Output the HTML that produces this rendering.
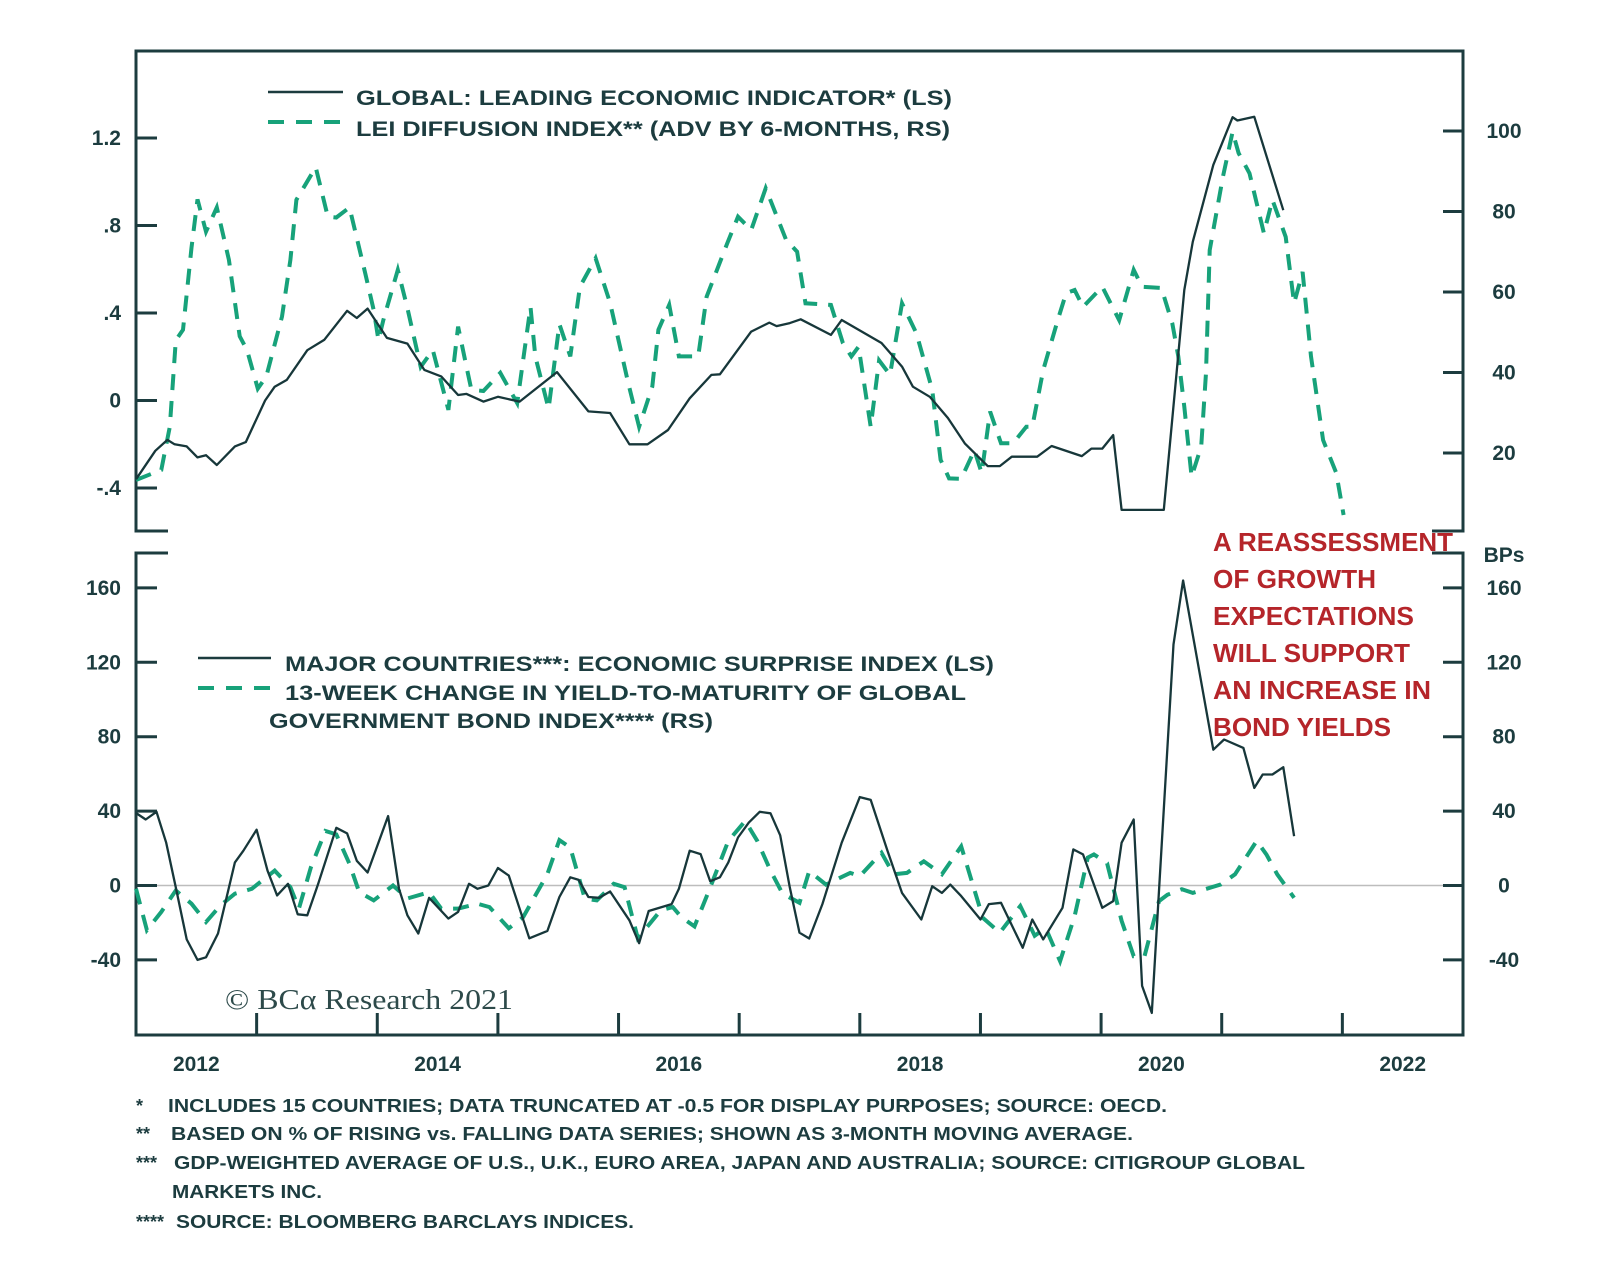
<!DOCTYPE html>
<html><head><meta charset="utf-8"><style>
html,body{margin:0;padding:0;background:#fff;}
svg{display:block;}
text{font-family:"Liberation Sans",Arial,sans-serif;fill:#1c3c3f;}
.b{font-weight:bold;}
</style></head><body>
<svg id="chart" width="1600" height="1272" viewBox="0 0 1600 1272" xmlns="http://www.w3.org/2000/svg">
<rect width="1600" height="1272" fill="#fff"/>
<g id="frame" stroke="#1c3c3f" stroke-width="3" fill="none">
<path d="M168 531 H136 V51 H1463 V531 H1432"/>
<path d="M168 553 H136 V1035 H1463 V553 H1432"/>
</g>
<line x1="136" x2="1463" y1="885.5" y2="885.5" stroke="#bdbdbd" stroke-width="1.5"/>
<g id="axes"></g>
<g id="series"></g>
<g>
<line x1="268" x2="343" y1="92" y2="92" stroke="#1c3c3f" stroke-width="2.5"/>
<text x="356" y="105" font-size="21" class="b" textLength="596" lengthAdjust="spacingAndGlyphs">GLOBAL: LEADING ECONOMIC INDICATOR* (LS)</text>
<line x1="268" x2="343" y1="122" y2="122" stroke="#17a27a" stroke-width="4" stroke-dasharray="16,12"/>
<text x="356" y="136" font-size="21" class="b" textLength="594" lengthAdjust="spacingAndGlyphs">LEI DIFFUSION INDEX** (ADV BY 6-MONTHS, RS)</text>
</g>
<g>
<line x1="198" x2="271" y1="658" y2="658" stroke="#1c3c3f" stroke-width="2.5"/>
<text x="285" y="671" font-size="21" class="b" textLength="709" lengthAdjust="spacingAndGlyphs">MAJOR COUNTRIES***: ECONOMIC SURPRISE INDEX (LS)</text>
<line x1="198" x2="271" y1="688" y2="688" stroke="#17a27a" stroke-width="4" stroke-dasharray="16,12"/>
<text x="285" y="700" font-size="21" class="b" textLength="681" lengthAdjust="spacingAndGlyphs">13-WEEK CHANGE IN YIELD-TO-MATURITY OF GLOBAL</text>
<text x="269" y="728" font-size="21" class="b" textLength="444" lengthAdjust="spacingAndGlyphs">GOVERNMENT BOND INDEX**** (RS)</text>
</g>
<text x="1504" y="562" font-size="21" class="b" text-anchor="middle">BPs</text>
<g font-size="26" font-weight="bold">
<text x="1213" y="551" style="fill:#b5252a" textLength="240" lengthAdjust="spacingAndGlyphs">A REASSESSMENT</text>
<text x="1213" y="588" style="fill:#b5252a" textLength="163" lengthAdjust="spacingAndGlyphs">OF GROWTH</text>
<text x="1213" y="625" style="fill:#b5252a" textLength="201" lengthAdjust="spacingAndGlyphs">EXPECTATIONS</text>
<text x="1213" y="662" style="fill:#b5252a" textLength="197" lengthAdjust="spacingAndGlyphs">WILL SUPPORT</text>
<text x="1213" y="699" style="fill:#b5252a" textLength="218" lengthAdjust="spacingAndGlyphs">AN INCREASE IN</text>
<text x="1213" y="736" style="fill:#b5252a" textLength="178" lengthAdjust="spacingAndGlyphs">BOND YIELDS</text>
</g>
<text x="225" y="1009" font-size="28" style="font-family:'Liberation Serif',serif;fill:#2d4a4a" textLength="288" lengthAdjust="spacingAndGlyphs">© BCα Research 2021</text>
<g font-size="18" class="b">
<text x="136" y="1112" class="b">*</text>
<text x="168" y="1112" class="b" textLength="999" lengthAdjust="spacingAndGlyphs">INCLUDES 15 COUNTRIES; DATA TRUNCATED AT -0.5 FOR DISPLAY PURPOSES; SOURCE: OECD.</text>
<text x="136" y="1140" class="b">**</text>
<text x="171" y="1140" class="b" textLength="962" lengthAdjust="spacingAndGlyphs">BASED ON % OF RISING vs. FALLING DATA SERIES; SHOWN AS 3-MONTH MOVING AVERAGE.</text>
<text x="136" y="1169" class="b">***</text>
<text x="174" y="1169" class="b" textLength="1131" lengthAdjust="spacingAndGlyphs">GDP-WEIGHTED AVERAGE OF U.S., U.K., EURO AREA, JAPAN AND AUSTRALIA; SOURCE: CITIGROUP GLOBAL</text>
<text x="172" y="1198" class="b" textLength="150" lengthAdjust="spacingAndGlyphs">MARKETS INC.</text>
<text x="136" y="1228" class="b">****</text>
<text x="176" y="1228" class="b" textLength="458" lengthAdjust="spacingAndGlyphs">SOURCE: BLOOMBERG BARCLAYS INDICES.</text>
</g>
</svg>
<script>
// ---- data ----
const leiDates = [2012.0,2012.16,2012.26,2012.32,2012.42,2012.51,2012.58,2012.67,2012.82,2012.91,2013.07,2013.15,2013.25,2013.42,2013.56,2013.75,2013.83,2013.92,2014.08,2014.25,2014.39,2014.53,2014.67,2014.74,2014.88,2015.0,2015.18,2015.49,2015.75,2015.93,2016.09,2016.24,2016.41,2016.59,2016.77,2016.84,2017.10,2017.25,2017.31,2017.42,2017.51,2017.76,2017.85,2018.18,2018.35,2018.44,2018.58,2018.73,2018.87,2019.06,2019.16,2019.26,2019.47,2019.59,2019.84,2019.92,2020.01,2020.10,2020.17,2020.52,2020.69,2020.76,2020.93,2021.09,2021.13,2021.27,2021.51];
const leiValues = [-0.36,-0.23,-0.18,-0.2,-0.21,-0.26,-0.25,-0.295,-0.21,-0.19,0.0,0.063,0.094,0.23,0.277,0.41,0.377,0.42,0.286,0.26,0.14,0.11,0.025,0.03,-0.005,0.017,-0.005,0.13,-0.05,-0.057,-0.2,-0.2,-0.135,0.01,0.117,0.12,0.315,0.356,0.34,0.354,0.371,0.3,0.368,0.263,0.155,0.063,0.017,-0.08,-0.196,-0.3,-0.3,-0.257,-0.257,-0.208,-0.254,-0.22,-0.22,-0.158,-0.5,-0.5,0.505,0.726,1.077,1.295,1.28,1.297,0.87];
const diffDates = [2012.0,2012.21,2012.28,2012.33,2012.39,2012.46,2012.51,2012.58,2012.67,2012.77,2012.86,2012.92,2013.01,2013.08,2013.21,2013.28,2013.33,2013.49,2013.59,2013.66,2013.77,2013.90,2013.97,2014.01,2014.05,2014.17,2014.25,2014.36,2014.46,2014.59,2014.67,2014.74,2014.78,2014.88,2015.02,2015.16,2015.27,2015.31,2015.42,2015.51,2015.60,2015.68,2015.81,2015.93,2016.08,2016.17,2016.28,2016.33,2016.42,2016.50,2016.66,2016.73,2016.90,2016.99,2017.10,2017.22,2017.39,2017.48,2017.55,2017.76,2017.86,2017.93,2017.99,2018.09,2018.16,2018.25,2018.35,2018.47,2018.60,2018.67,2018.74,2018.84,2018.95,2019.01,2019.08,2019.17,2019.27,2019.38,2019.43,2019.52,2019.64,2019.71,2019.78,2019.85,2020.01,2020.15,2020.27,2020.34,2020.50,2020.59,2020.64,2020.69,2020.75,2020.83,2020.87,2020.90,2021.01,2021.09,2021.14,2021.23,2021.35,2021.42,2021.53,2021.60,2021.67,2021.74,2021.84,2021.95,2022.01];
const diffValues = [13.3,15.8,26.5,48,50.6,71,83,75,81,68,49,45.6,36,39,53.9,68,82.9,91,78.7,78.5,81,64.7,55.5,48,53,65.5,56,41.4,45.6,30.7,51.4,41.4,35.7,35.4,39.9,32.4,56.3,44,31,52,44,61.3,68.4,57.3,37.4,26.5,36.5,50.6,56.8,44,44,58.8,72,78.7,75.4,85.8,72.9,70,57.2,56.8,47.3,44,46.4,26.5,43,39.4,57.2,49.7,35.7,18.3,13.7,13.6,20.7,15,30.3,22.4,22.4,26.5,26.5,40.6,53,59.7,60.5,56.3,61.3,53,65.5,61.3,61,52.2,44,31.5,14.1,21.6,39.9,70.4,88.6,99.8,94.5,89.5,74.6,82.9,73.7,57.2,65,44,23.2,15,4.6];
const surpDates = [2012.0,2012.08,2012.17,2012.25,2012.33,2012.42,2012.51,2012.58,2012.68,2012.82,2012.89,2013.0,2013.09,2013.17,2013.26,2013.34,2013.42,2013.51,2013.66,2013.75,2013.83,2013.92,2014.09,2014.18,2014.25,2014.34,2014.43,2014.59,2014.67,2014.76,2014.83,2014.92,2015.0,2015.09,2015.26,2015.41,2015.51,2015.60,2015.67,2015.75,2015.84,2015.93,2016.09,2016.17,2016.25,2016.44,2016.50,2016.59,2016.68,2016.76,2016.84,2016.91,2016.99,2017.08,2017.17,2017.26,2017.34,2017.42,2017.50,2017.58,2017.69,2017.85,2018.0,2018.09,2018.23,2018.35,2018.51,2018.60,2018.68,2018.75,2018.84,2019.0,2019.07,2019.17,2019.35,2019.43,2019.52,2019.68,2019.77,2019.85,2020.01,2020.10,2020.17,2020.27,2020.34,2020.42,2020.60,2020.68,2020.93,2021.02,2021.18,2021.27,2021.34,2021.42,2021.51,2021.60];
const surpValues = [39,35.5,39.6,23,-1,-29,-40,-38.6,-25.8,12.4,18.7,30,8,-5.3,0.9,-15.5,-16,0.9,31,28,13.3,7,37.3,-1.8,-16,-25.8,-6.6,-17.8,-14.2,0.9,-1.8,0,9.4,5.3,-28.4,-24.4,-6.2,4.4,3,-6.2,-6.6,-3.2,-18.7,-31,-13.7,-10,-1.8,18.7,16.9,2.3,4.4,12.4,25.8,33.8,39.6,38.8,27,-1,-25.4,-28.5,-10,23,47.5,46,18.5,-4,-18.3,-0.4,-4,0.5,-5.7,-18.3,-10,-9.3,-33.5,-18.3,-29,-12,19.4,16.7,-12,-8.4,23,35.5,-54,-68.5,129.6,164,73,78.5,74,52.5,59.7,59.7,63.6,26.5];
const yieldDates = [2012.0,2012.09,2012.21,2012.33,2012.46,2012.58,2012.70,2012.82,2012.96,2013.15,2013.28,2013.35,2013.45,2013.57,2013.66,2013.77,2013.85,2013.97,2014.13,2014.25,2014.43,2014.53,2014.67,2014.83,2014.93,2015.09,2015.21,2015.41,2015.51,2015.60,2015.72,2015.82,2015.96,2016.05,2016.16,2016.35,2016.45,2016.52,2016.63,2016.75,2016.91,2017.05,2017.15,2017.26,2017.36,2017.50,2017.58,2017.72,2017.92,2018.0,2018.18,2018.28,2018.39,2018.53,2018.68,2018.84,2019.02,2019.16,2019.33,2019.45,2019.54,2019.66,2019.78,2019.89,2019.94,2020.05,2020.17,2020.27,2020.36,2020.48,2020.55,2020.67,2020.76,2020.99,2021.11,2021.29,2021.37,2021.46,2021.60];
const yieldValues = [-1.8,-24,-14.2,-2.7,-9.8,-19.6,-10.7,-4.4,-1.8,8,-0.9,-12.4,9.8,29.3,27.5,11.6,-3.6,-8,0,-7,-3.6,-12.4,-12.4,-9.8,-11.6,-23,-17,6.2,24.4,20.4,-7,-8,0.9,-0.9,-28.4,-13.3,-11.6,-17,-22,-2.7,24,34.7,24,8,-4.4,-9.3,7.7,0.5,6.8,5,17.6,6,6.8,13,6,21,-17.4,-25.4,-11,-27,-22.8,-40.7,-16.5,15,16.7,12,-19,-38,-38,-8.4,-5,-2,-4,0.5,6,24,16.7,6,-6.6];
const topLeftTicks = [1.2,0.8,0.4,0,-0.4];
const topLeftLabels = ["1.2",".8",".4","0","-.4"];
const topRightTicks = [100,80,60,40,20];
const botTicks = [160,120,80,40,0,-40];
const yearTicks = [2013,2014,2015,2016,2017,2018,2019,2020,2021,2022];
const yearLabels = [2012,2014,2016,2018,2020,2022];

// ---- scales ----
const X0=136, X1=1463, T0=2012, T1=2023;
function xs(t){return X0+(t-T0)*(X1-X0)/(T1-T0);}
function yL(v){return 400.5-v*218.75;}
function yR(v){return 453-(v-20)*4.025;}
function yB(v){return 885.5-v*1.86;}
const NS="http://www.w3.org/2000/svg";
function mk(tag,attrs,parent,txt){const e=document.createElementNS(NS,tag);for(const k in attrs)e.setAttribute(k,attrs[k]);if(txt!==undefined)e.textContent=txt;parent.appendChild(e);return e;}
const axes=document.getElementById('axes'), series=document.getElementById('series');
const AX="#1c3c3f";
const XB=1035;

topLeftTicks.forEach((v,i)=>{
  const l=mk('line',{x1:136,x2:157,y1:yL(v),y2:yL(v),stroke:AX,'stroke-width':3},axes);
  
  
  const t=mk('text',{x:121,y:yL(v)+7,'font-size':21,'text-anchor':'end','font-weight':'bold'},axes,topLeftLabels[i]);
  
  
});
topRightTicks.forEach(v=>{
  const l=mk('line',{x1:1443,x2:1463,y1:yR(v),y2:yR(v),stroke:AX,'stroke-width':3},axes);
  
  
  const t=mk('text',{x:1504,y:yR(v)+7,'font-size':21,'text-anchor':'middle','font-weight':'bold'},axes,String(v));
  
  
});
botTicks.forEach(v=>{
  const l=mk('line',{x1:136,x2:157,y1:yB(v),y2:yB(v),stroke:AX,'stroke-width':3},axes);
  
  
  const r=mk('line',{x1:1443,x2:1463,y1:yB(v),y2:yB(v),stroke:AX,'stroke-width':3},axes);
  
  
  const t=mk('text',{x:121,y:yB(v)+7,'font-size':21,'text-anchor':'end','font-weight':'bold'},axes,String(v));
  
  
  const t2=mk('text',{x:1504,y:yB(v)+7,'font-size':21,'text-anchor':'middle','font-weight':'bold'},axes,String(v));
  
  
});
yearTicks.forEach(y=>{
  const l=mk('line',{x1:xs(y),x2:xs(y),y1:XB,y2:XB-22,stroke:AX,'stroke-width':3},axes);
  
  
});
yearLabels.forEach(y=>{
  const t=mk('text',{x:xs(y+0.5),y:1071,'font-size':21,'text-anchor':'middle','font-weight':'bold'},axes,String(y));
  
  
});

function pathD(dates,vals,yf){return dates.map((d,i)=>(i?'L':'M')+xs(d).toFixed(1)+' '+yf(vals[i]).toFixed(1)).join(' ');}
const diff=mk('path',{d:pathD(diffDates,diffValues,yR),fill:'none',stroke:'#17a27a','stroke-width':4,'stroke-dasharray':'16,11'},series);


const lei=mk('path',{d:pathD(leiDates,leiValues,yL),fill:'none',stroke:'#17373a','stroke-width':2.3,'stroke-linejoin':'round'},series);


const yl=mk('path',{d:pathD(yieldDates,yieldValues,yB),fill:'none',stroke:'#17a27a','stroke-width':4,'stroke-dasharray':'16,11'},series);


const sp=mk('path',{d:pathD(surpDates,surpValues,yB),fill:'none',stroke:'#17373a','stroke-width':2.3,'stroke-linejoin':'round'},series);


</script>
</body></html>
